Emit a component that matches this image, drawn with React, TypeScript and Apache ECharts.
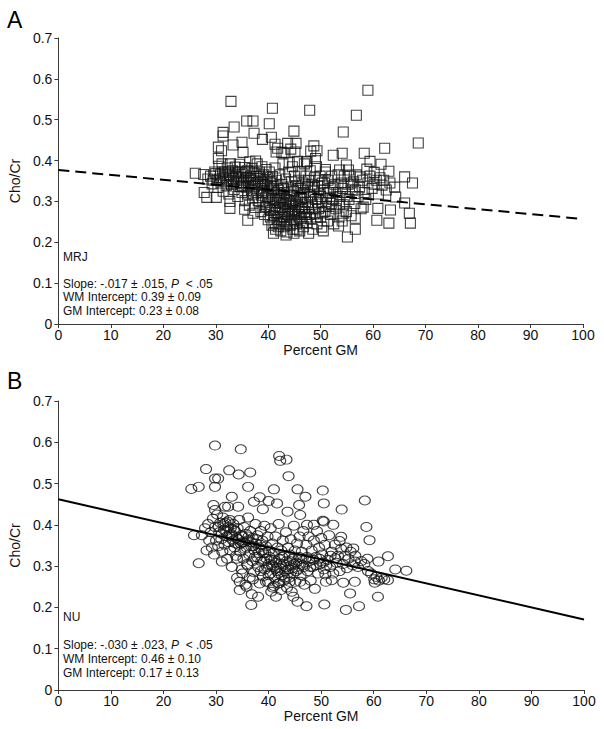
import React, { useEffect, useRef } from "react";
import * as echarts from "echarts";

const FONT = "'Liberation Sans', Arial, sans-serif";

// Panel A (MRJ): [percent GM, Cho/Cr]
const mrjOuter: [number, number][] = [
  [32.9,0.545],[40.8,0.528],[35.9,0.497],[37.1,0.497],[33.5,0.482],[40.2,0.49],[31.4,0.469],[31.4,0.46],[37.3,0.467],[44.9,0.472],
  [38.9,0.452],[40.6,0.457],[35.0,0.445],[30.5,0.433],[33.3,0.438],[45.3,0.442],[35.2,0.42],[41.8,0.43],[44.3,0.428],[42.6,0.42],
  [41.3,0.44],[43.7,0.442],[45.1,0.421],[41.5,0.421],[43.0,0.419],[47.4,0.397],[44.0,0.395],[37.6,0.399],[31.1,0.424],[30.5,0.405],
  [26.1,0.369],[27.7,0.366],[27.8,0.322],[28.3,0.31],[30.1,0.31],[32.7,0.30],[32.7,0.283],[35.5,0.281],[36.1,0.254],[37.1,0.271],
  [41.0,0.222],[43.4,0.218],[44.9,0.222],
  [59.0,0.572],[47.9,0.523],[56.8,0.511],[54.3,0.47],[68.6,0.443],[62.2,0.43],[48.7,0.436],[48.1,0.423],[49.3,0.424],[52.4,0.413],
  [54.1,0.418],[58.3,0.418],[59.4,0.398],[47.3,0.397],[49.0,0.405],[54.9,0.389],[61.5,0.391],[58.8,0.379],[60.2,0.371],[63.0,0.374],
  [50.9,0.378],[53.6,0.377],[55.3,0.377],[66.0,0.36],[67.5,0.345],[57.5,0.36],[64.1,0.335],[64.3,0.311],[66.0,0.296],[60.9,0.283],
  [63.3,0.279],[66.9,0.271],[60.7,0.254],[63.0,0.247],[67.1,0.247],[56.6,0.232],[55.1,0.213],[47.7,0.222],[53.4,0.24],[50.2,0.237],
  [56.6,0.259],[54.3,0.271],[58.1,0.286]
];
const mrjCore: [number, number][] = [
  [28.5,0.355],[29.0,0.362],[29.3,0.343],[29.8,0.372],[30.2,0.352],[30.4,0.334],[30.6,0.386],[30.9,0.365],[31.0,0.345],[31.2,0.392],
  [31.4,0.325],[31.5,0.358],[31.8,0.372],[32.0,0.338],[32.2,0.382],[32.3,0.352],[32.5,0.318],[32.6,0.365],[32.8,0.392],[33.0,0.341],
  [33.2,0.375],[33.3,0.356],[33.5,0.329],[33.7,0.384],[33.9,0.362],[34.0,0.345],[34.2,0.312],[34.4,0.372],[34.5,0.391],[34.7,0.336],
  [34.9,0.355],[35.0,0.322],[35.2,0.367],[35.3,0.345],[35.5,0.383],[35.6,0.302],[35.8,0.335],[35.9,0.358],[36.0,0.375],[36.1,0.318],
  [36.3,0.346],[36.4,0.291],[36.5,0.397],[36.6,0.362],[36.8,0.328],[36.9,0.381],[37.0,0.308],[37.1,0.352],[37.3,0.37],[37.4,0.337],
  [37.5,0.285],[37.7,0.361],[37.8,0.322],[37.9,0.392],[38.0,0.346],[38.1,0.302],[38.3,0.372],[38.4,0.331],[38.5,0.356],[38.6,0.275],
  [38.7,0.315],[38.8,0.385],[38.9,0.342],[39.0,0.296],[39.1,0.365],[39.2,0.326],[39.3,0.268],[39.4,0.352],[39.5,0.309],[39.6,0.378],
  [39.7,0.288],[39.8,0.338],[39.9,0.358],[40.0,0.255],[40.1,0.318],[40.2,0.372],[40.3,0.298],[40.4,0.345],[40.5,0.278],[40.6,0.328],
  [40.7,0.242],[40.8,0.361],[40.9,0.306],[41.0,0.265],[41.1,0.338],[41.2,0.288],[41.3,0.382],[41.4,0.232],[41.5,0.315],[41.6,0.352],
  [41.7,0.256],[41.8,0.298],[41.9,0.272],[42.0,0.328],[42.1,0.245],[42.2,0.365],[42.3,0.285],[42.4,0.228],[42.5,0.308],[42.6,0.342],
  [42.7,0.262],[42.8,0.392],[42.9,0.295],[43.0,0.238],[43.1,0.322],[43.2,0.275],[43.3,0.355],[43.4,0.252],[43.5,0.305],[43.6,0.225],
  [43.7,0.335],[43.8,0.282],[43.9,0.372],[44.0,0.262],[44.1,0.315],[44.2,0.242],[44.3,0.295],[44.4,0.348],[44.5,0.272],[44.6,0.385],
  [44.7,0.232],[44.8,0.325],[44.9,0.255],[45.0,0.362],[45.1,0.302],[45.2,0.278],[45.3,0.338],[45.4,0.245],[45.5,0.315],[45.6,0.398],
  [45.7,0.268],[45.8,0.352],[45.9,0.288],[46.0,0.228],[46.1,0.332],[46.2,0.372],[46.3,0.258],[46.4,0.308],[46.5,0.282],[46.6,0.345],
  [46.7,0.238],[46.8,0.322],[46.9,0.392],[47.0,0.268],[47.1,0.298],[47.2,0.362],[47.4,0.248],[47.5,0.335],[47.7,0.285],[47.9,0.315],
  [48.0,0.375],[48.1,0.258],[48.3,0.342],[48.4,0.292],[48.5,0.232],[48.6,0.325],[48.8,0.358],[48.9,0.272],[49.0,0.305],[49.2,0.385],
  [49.3,0.245],[49.4,0.338],[49.6,0.282],[49.7,0.318],[49.9,0.362],[50.0,0.262],[50.2,0.298],[50.3,0.345],[50.5,0.228],[50.6,0.328],
  [50.8,0.275],[50.9,0.372],[51.1,0.308],[51.3,0.252],[51.4,0.352],[51.6,0.288],[51.8,0.332],[51.9,0.268],[52.1,0.362],[52.3,0.305],
  [52.5,0.245],[52.7,0.342],[52.9,0.282],[53.1,0.322],[53.3,0.365],[53.5,0.262],[53.7,0.312],[53.9,0.345],[54.1,0.252],[54.3,0.292],
  [54.5,0.362],[54.7,0.322],[54.9,0.275],[55.2,0.342],[55.4,0.305],[55.6,0.362],[55.8,0.265],[56.0,0.328],[56.3,0.348],[56.5,0.295],
  [56.8,0.365],[57.1,0.312],[57.4,0.335],[57.7,0.282],[58.0,0.352],[58.3,0.322],[58.6,0.305],[59.0,0.345],[59.4,0.362],[59.8,0.332],
  [60.2,0.342],[60.6,0.352],[61.0,0.318],[61.3,0.358],[61.7,0.34],[62.0,0.352],[62.5,0.328],[63.2,0.345]
];
const mrjDense: [number, number][] = [
  [35.4,0.352],[35.7,0.372],[36.2,0.338],[36.7,0.355],[37.2,0.318],[37.6,0.342],[38.2,0.362],[38.6,0.348],[38.9,0.322],[39.2,0.342],
  [39.5,0.285],[39.9,0.312],[40.2,0.282],[40.4,0.262],[40.6,0.348],[40.9,0.332],[41.1,0.248],[41.3,0.305],[41.5,0.272],[41.7,0.322],
  [41.9,0.238],[42.1,0.302],[42.3,0.318],[42.5,0.255],[42.7,0.285],[42.9,0.332],[43.1,0.262],[43.3,0.292],[43.5,0.245],[43.7,0.268],
  [43.9,0.302],[44.1,0.288],[44.3,0.255],[44.5,0.328],[44.7,0.298],[44.9,0.275],[45.1,0.252],[45.3,0.292],[45.5,0.232],[45.7,0.332],
  [45.9,0.262],[46.1,0.305],[46.3,0.285],[46.5,0.248],[46.7,0.318],[46.9,0.275],[47.1,0.342],[47.3,0.262],[47.5,0.298],[47.7,0.352],
  [47.9,0.268],[48.2,0.312],[48.5,0.282],[48.8,0.335],[49.1,0.262],[49.4,0.298],[49.7,0.352],[50.0,0.312],[50.4,0.272],[50.7,0.345],
  [51.0,0.288],[51.5,0.322],[52.0,0.295],[52.4,0.335],[53.0,0.302],[53.6,0.292],[54.2,0.332],[55.0,0.312],[55.8,0.345],[56.6,0.328],
  [29.5,0.352],[30.0,0.368],[30.7,0.355],[31.3,0.372],[31.9,0.355],[32.4,0.372],[32.9,0.362],[33.4,0.345],[33.8,0.372],[34.3,0.358],
  [34.8,0.372],[35.1,0.338]
];
const mrjFit: [number, number][] = [[0, 0.377], [100, 0.257]];

// Panel B (NU): [percent GM, Cho/Cr]
const nuOuter: [number, number][] = [
  [29.8,0.592],[34.7,0.583],[28.1,0.535],[32.5,0.532],[34.3,0.522],[36.5,0.527],[25.3,0.487],[26.7,0.492],[29.8,0.512],[30.4,0.512],
  [29.8,0.492],[36.1,0.492],[42.2,0.555],[42.0,0.567],[43.4,0.558],[43.8,0.518],[41.0,0.486],[45.5,0.486],[33.0,0.468],[38.3,0.467],
  [40.0,0.458],[41.6,0.452],[43.6,0.432],[45.8,0.448],[37.2,0.456],[29.5,0.448],[31.7,0.444],[34.2,0.444],[38.9,0.438],[32.3,0.444],
  [29.8,0.436],[25.8,0.375],[26.7,0.307],[31.1,0.311],[36.7,0.206],[38.0,0.226],[45.5,0.214],[34.5,0.242],[35.8,0.25],[40.5,0.238],
  [41.4,0.226],[44.7,0.226],
  [50.3,0.483],[47.0,0.468],[50.5,0.452],[58.3,0.459],[53.9,0.437],[58.6,0.395],[59.2,0.363],[52.3,0.40],[50.5,0.408],[47.3,0.40],
  [48.6,0.40],[46.0,0.424],[50.3,0.41],[53.8,0.371],[53.5,0.361],[54.8,0.345],[56.1,0.343],[62.7,0.324],[60.9,0.311],[56.4,0.311],
  [64.1,0.292],[66.2,0.289],[58.9,0.288],[60.5,0.274],[62.7,0.266],[60.2,0.26],[54.2,0.26],[56.4,0.262],[52.0,0.266],[55.5,0.234],
  [60.8,0.226],[47.2,0.203],[50.6,0.207],[54.7,0.194],[57.2,0.203],[52.7,0.319],[50.8,0.28]
];
const nuCore: [number, number][] = [
  [27.3,0.375],[27.9,0.392],[28.2,0.338],[28.5,0.402],[28.7,0.362],[29.0,0.382],[29.2,0.345],[29.4,0.415],[29.6,0.328],[29.8,0.395],
  [30.0,0.362],[30.2,0.425],[30.4,0.348],[30.6,0.382],[30.8,0.405],[31.0,0.365],[31.2,0.335],[31.3,0.418],[31.5,0.388],[31.6,0.352],
  [31.8,0.405],[32.0,0.372],[32.1,0.318],[32.3,0.395],[32.4,0.358],[32.6,0.412],[32.7,0.338],[32.9,0.378],[33.0,0.298],[33.2,0.362],
  [33.3,0.402],[33.5,0.345],[33.6,0.385],[33.8,0.325],[33.9,0.368],[34.0,0.272],[34.1,0.392],[34.3,0.352],[34.4,0.412],[34.5,0.262],
  [34.6,0.335],[34.8,0.375],[34.9,0.292],[35.0,0.358],[35.2,0.318],[35.3,0.395],[35.5,0.342],[35.6,0.255],[35.7,0.378],[35.9,0.305],
  [36.0,0.362],[36.1,0.418],[36.3,0.328],[36.4,0.272],[36.5,0.385],[36.7,0.348],[36.8,0.232],[36.9,0.312],[37.0,0.368],[37.2,0.285],
  [37.3,0.338],[37.5,0.402],[37.6,0.355],[37.8,0.322],[37.9,0.375],[38.0,0.298],[38.2,0.345],[38.3,0.258],[38.5,0.385],[38.6,0.312],
  [38.8,0.362],[38.9,0.275],[39.0,0.332],[39.2,0.398],[39.3,0.292],[39.5,0.348],[39.6,0.318],[39.8,0.372],[39.9,0.262],[40.0,0.305],
  [40.1,0.338],[40.3,0.282],[40.4,0.392],[40.5,0.315],[40.7,0.355],[40.8,0.248],[40.9,0.298],[41.0,0.332],[41.2,0.272],[41.3,0.372],
  [41.4,0.308],[41.6,0.288],[41.7,0.345],[41.8,0.258],[41.9,0.402],[42.0,0.318],[42.2,0.295],[42.3,0.242],[42.4,0.338],[42.5,0.278],
  [42.7,0.362],[42.8,0.305],[42.9,0.265],[43.0,0.325],[43.1,0.288],[43.3,0.382],[43.4,0.312],[43.5,0.248],[43.7,0.345],[43.8,0.292],
  [43.9,0.272],[44.0,0.328],[44.2,0.365],[44.3,0.302],[44.4,0.238],[44.6,0.318],[44.7,0.282],[44.8,0.398],[45.0,0.338],[45.1,0.262],
  [45.3,0.308],[45.4,0.355],[45.6,0.292],[45.8,0.322],[45.9,0.372],[46.1,0.278],[46.3,0.335],[46.5,0.302],[46.6,0.385],[46.8,0.255],
  [47.0,0.318],[47.2,0.352],[47.4,0.288],[47.6,0.372],[47.8,0.312],[48.0,0.265],[48.2,0.338],[48.4,0.298],[48.6,0.362],[48.8,0.245],
  [49.0,0.322],[49.2,0.385],[49.4,0.282],[49.6,0.345],[49.8,0.305],[50.0,0.368],[50.2,0.328],[50.5,0.292],[50.7,0.352],[50.9,0.262],
  [51.2,0.315],[51.5,0.375],[51.7,0.298],[52.0,0.335],[52.3,0.282],[52.6,0.352],[52.9,0.308],[53.2,0.325],[53.5,0.288],[53.8,0.342],
  [54.1,0.305],[54.5,0.325],[54.9,0.295],[55.2,0.318],[55.6,0.335],[56.0,0.302],[56.5,0.325],[57.0,0.298],[57.6,0.312],[58.2,0.305],
  [58.8,0.318],[59.5,0.282],[60.1,0.268],[61.0,0.265],[61.5,0.272],[62.0,0.268]
];
const nuDense: [number, number][] = [
  [30.5,0.395],[31.1,0.378],[31.4,0.402],[31.9,0.385],[32.2,0.408],[32.5,0.375],[32.8,0.392],[33.1,0.372],[33.4,0.388],[33.7,0.355],
  [34.2,0.365],[34.7,0.355],[35.1,0.372],[35.4,0.358],[35.8,0.345],[36.2,0.372],[36.6,0.358],[37.1,0.348],[37.4,0.322],[37.7,0.365],
  [38.1,0.332],[38.4,0.352],[38.7,0.338],[39.1,0.312],[39.4,0.332],[39.7,0.298],[40.2,0.322],[40.6,0.302],[41.1,0.315],[41.5,0.295],
  [41.9,0.282],[42.1,0.305],[42.6,0.322],[43.2,0.298],[43.6,0.282],[44.1,0.312],[44.5,0.295],[44.9,0.305],[45.2,0.288],[45.7,0.305],
  [46.2,0.318],[46.7,0.298],[47.3,0.322],[47.9,0.298],[48.5,0.315],[49.1,0.302],[49.7,0.318],[50.4,0.308],[51.0,0.302],[51.8,0.325],
  [34.0,0.318],[36.0,0.302],[37.0,0.268],[38.5,0.288],[40.0,0.278],[42.0,0.258],[43.0,0.272],[44.0,0.262],[46.0,0.262],[35.0,0.282],
  [39.5,0.262],[41.0,0.252]
];
const nuFit: [number, number][] = [[0, 0.462], [100, 0.171]];

const yTicks = [0, 0.1, 0.2, 0.3, 0.4, 0.5, 0.6, 0.7];
const xTicks = [0, 10, 20, 30, 40, 50, 60, 70, 80, 90, 100];

const statsA = { name: "MRJ", slope: "Slope: -.017 ± .015, ", p: "P", pv: "  < .05", wm: "WM Intercept: 0.39 ± 0.09", gm: "GM Intercept: 0.23 ± 0.08" };
const statsB = { name: "NU", slope: "Slope: -.030 ± .023, ", p: "P", pv: "  < .05", wm: "WM Intercept: 0.46 ± 0.10", gm: "GM Intercept: 0.17 ± 0.13" };

const axisColor = "#3a3a3a";

function xAxis(gridIndex: number, nameGap: number) {
  return {
    type: "value",
    gridIndex,
    min: xTicks[0],
    max: xTicks[xTicks.length - 1],
    interval: 10,
    name: "Percent GM",
    nameLocation: "middle",
    nameGap,
    nameTextStyle: { fontFamily: FONT, fontSize: 14, color: "#111" },
    axisLine: { show: true, onZero: false, lineStyle: { color: axisColor, width: 1 } },
    axisTick: { show: true, length: 4, lineStyle: { color: axisColor } },
    axisLabel: { fontFamily: FONT, fontSize: 14, color: "#111", margin: 4 },
    splitLine: { show: false },
  };
}

function yAxis(gridIndex: number) {
  return {
    type: "value",
    gridIndex,
    min: yTicks[0],
    max: yTicks[yTicks.length - 1],
    interval: 0.1,
    name: "Cho/Cr",
    nameLocation: "middle",
    nameGap: 34,
    nameRotate: 90,
    nameTextStyle: { fontFamily: FONT, fontSize: 14, color: "#111" },
    axisLine: { show: true, onZero: false, lineStyle: { color: axisColor, width: 1 } },
    axisTick: { show: true, length: 4, lineStyle: { color: axisColor } },
    axisLabel: {
      fontFamily: FONT,
      fontSize: 14,
      color: "#111",
      margin: 6,
      formatter: (v: number) => (Math.abs(v) < 1e-9 ? "0" : v.toFixed(1)),
    },
    splitLine: { show: false },
  };
}

function statText(s: typeof statsA, x: number, yName: number, ySlope: number, yWm: number, yGm: number) {
  const base = { fontFamily: FONT, fontSize: 12, fill: "#111" };
  return [
    { type: "text", left: x, top: yName - 7, style: { ...base, text: s.name } },
    {
      type: "text",
      left: x,
      top: ySlope - 7,
      style: {
        ...base,
        text: `{a|${s.slope}}{i|${s.p}}{a|${s.pv}}`,
        rich: {
          a: { fontFamily: FONT, fontSize: 12, fill: "#111" },
          i: { fontFamily: FONT, fontSize: 12, fontStyle: "italic", fill: "#111" },
        },
      },
    },
    { type: "text", left: x, top: yWm - 7, style: { ...base, text: s.wm } },
    { type: "text", left: x, top: yGm - 7, style: { ...base, text: s.gm } },
  ];
}

export default function App() {
  const ref = useRef<HTMLDivElement>(null);
  useEffect(() => {
    document.body.style.margin = "0";
    if (!ref.current) return;
    const chart = echarts.init(ref.current, undefined, { renderer: "svg" });
    const markerStyle = { color: "transparent", borderColor: "#141414", borderWidth: 1.1 };
    chart.setOption({
      animation: false,
      backgroundColor: "#ffffff",
      grid: [
        { left: 51, top: 38, width: 532, height: 286 },
        { left: 51, top: 401, width: 533, height: 289 },
      ],
      xAxis: [xAxis(0, 18), xAxis(1, 19)],
      yAxis: [yAxis(0), yAxis(1)],
      series: [
        {
          type: "scatter", xAxisIndex: 0, yAxisIndex: 0, symbol: "rect", symbolSize: 10,
          itemStyle: markerStyle, data: [...mrjCore, ...mrjDense, ...mrjOuter], silent: true,
        },
        {
          type: "line", xAxisIndex: 0, yAxisIndex: 0, data: mrjFit, symbol: "none", silent: true,
          lineStyle: { color: "#000", width: 2, type: [11, 6] }, z: 3,
        },
        {
          type: "scatter", xAxisIndex: 1, yAxisIndex: 1,
          symbol: "path://M0,5 A5,5 0 1,1 10,5 A5,5 0 1,1 0,5 Z", symbolSize: [11, 9],
          itemStyle: markerStyle, data: [...nuCore, ...nuDense, ...nuOuter], silent: true,
        },
        {
          type: "line", xAxisIndex: 1, yAxisIndex: 1, data: nuFit, symbol: "none", silent: true,
          lineStyle: { color: "#000", width: 2 }, z: 3,
        },
      ],
      graphic: [
        { type: "text", left: 7, top: 8, style: { text: "A", fontFamily: FONT, fontSize: 23, fill: "#000" } },
        { type: "text", left: 7, top: 369, style: { text: "B", fontFamily: FONT, fontSize: 23, fill: "#000" } },
        ...statText(statsA, 63, 258, 285, 298, 312),
        ...statText(statsB, 63, 618, 646, 660, 674),
      ],
    });
    return () => chart.dispose();
  }, []);
  return <div ref={ref} style={{ width: 604, height: 729 }} />;
}
